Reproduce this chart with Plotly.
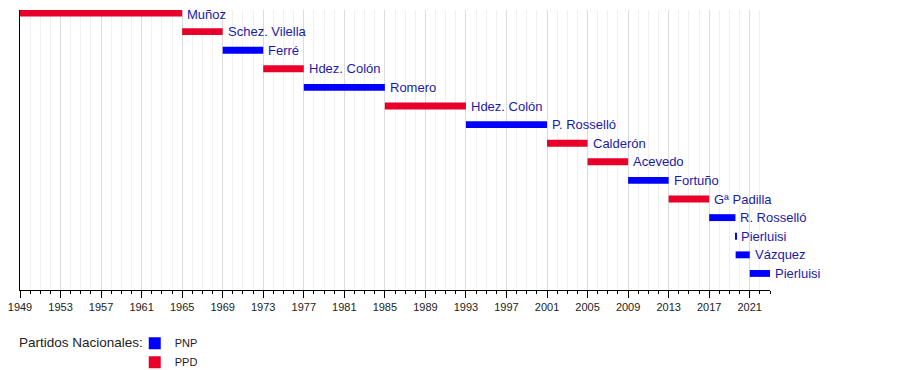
import plotly.graph_objects as go

names = ["Muñoz", "Schez. Vilella", "Ferré", "Hdez. Colón", "Romero", "Hdez. Colón",
         "P. Rosselló", "Calderón", "Acevedo", "Fortuño", "Gª Padilla", "R. Rosselló",
         "Pierluisi", "Vázquez", "Pierluisi"]
starts = [1949, 1965, 1969, 1973, 1977, 1985, 1993, 2001, 2005, 2009, 2013, 2017, 2019.59, 2019.61, 2021.0]
ends = [1965, 1969, 1973, 1977, 1985, 1993, 2001, 2005, 2009, 2013, 2017, 2019.59, 2019.61, 2021.0, 2023.0]
parties = ["PPD", "PPD", "PNP", "PPD", "PNP", "PPD", "PNP", "PPD", "PPD", "PNP", "PPD", "PNP", "PNP", "PNP", "PNP"]
party_order = ["PNP", "PPD"]
party_colors = {"PNP": "#0000ff", "PPD": "#e8002b"}
tick_years = list(range(1949, 2022, 4))

FONT = "Liberation Sans, Arial, Helvetica, sans-serif"
LABEL_COLOR = "#1a1aa8"

fig = go.Figure()
rows = list(range(len(names)))
for p in party_order:
    idx = [i for i in rows if parties[i] == p]
    fig.add_trace(go.Bar(
        y=[i for i in idx],
        x=[max(ends[i] - starts[i], 0.12) for i in idx],
        base=[starts[i] for i in idx],
        orientation="h",
        width=0.37,
        marker=dict(color=party_colors[p], line=dict(width=0)),
        name=p,
        hoverinfo="skip",
    ))

for i in rows:
    fig.add_annotation(
        x=ends[i], y=i, xref="x", yref="y", text=names[i], showarrow=False,
        xanchor="left", yanchor="middle", xshift=3, yshift=(-2 if i == 0 else 0),
        font=dict(family=FONT, size=13, color=LABEL_COLOR),
    )

fig.update_layout(
    width=900, height=370,
    margin=dict(l=12, r=138, t=2, b=88, autoexpand=False),
    paper_bgcolor="white", plot_bgcolor="white",
    barmode="overlay",
    font=dict(family=FONT, size=11, color="#222"),
    showlegend=True,
    legend=dict(
        x=0.153, y=-0.138, xanchor="left", yanchor="top",
        font=dict(family=FONT, size=11, color="#222"),
        itemwidth=30, tracegroupgap=0, bgcolor="rgba(0,0,0,0)",
    ),
)
fig.update_xaxes(
    range=[1949, 2023], tickmode="array", tickvals=tick_years,
    ticktext=[str(y) for y in tick_years],
    ticks="outside", ticklen=7, tickcolor="black", tickwidth=1,
    tickfont=dict(family=FONT, size=11, color="#222"),
    ticklabeloverflow="allow",
    showgrid=True, gridcolor="#dcdcdc", gridwidth=1,
    showline=True, linecolor="black", linewidth=1,
    minor=dict(dtick=1, tick0=1949, ticks="outside", ticklen=3, tickcolor="black",
               showgrid=True, gridcolor="#f0f0f0", gridwidth=1),
    zeroline=False, fixedrange=True, automargin=False,
)
fig.update_yaxes(
    range=[14.89, -0.16], showticklabels=False, showgrid=False, zeroline=False,
    showline=True, linecolor="black", linewidth=1, ticks="", automargin=False,
)
fig.add_annotation(
    x=0, y=-0.189, xref="paper", yref="paper", xanchor="left", yanchor="middle",
    xshift=-3, text="Partidos Nacionales:", showarrow=False,
    font=dict(family=FONT, size=13.5, color="#222"),
)
fig.write_html("out.html")
